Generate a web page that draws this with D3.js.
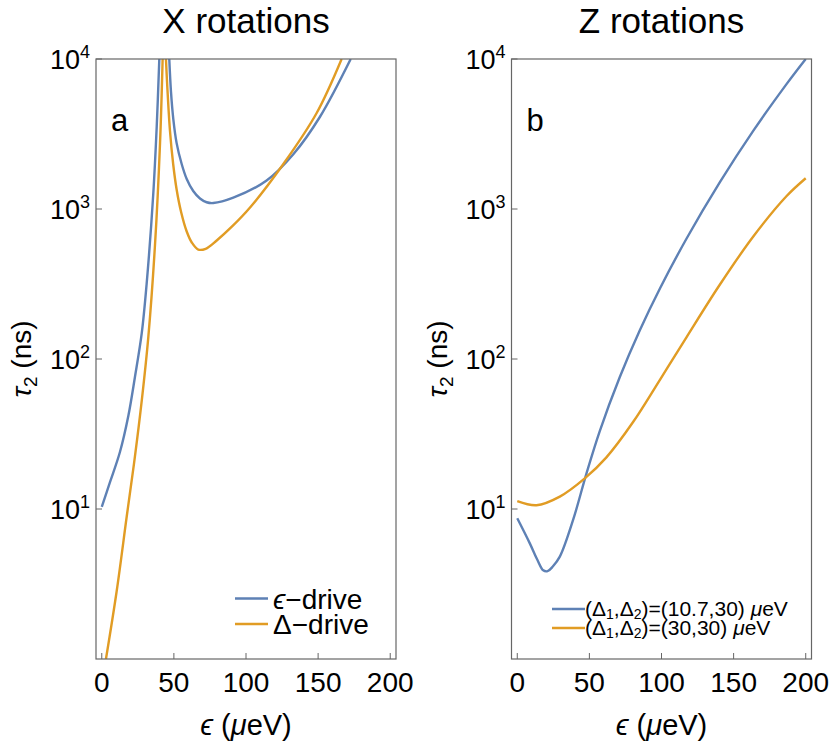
<!DOCTYPE html>
<html>
<head>
<meta charset="utf-8">
<script src="https://cdn.jsdelivr.net/npm/d3@7"></script>
<style>
  body { margin: 0; background: #fff; }
  text { font-family: "Liberation Sans", Arial, sans-serif; fill: #000; }
</style>
</head>
<body>
<svg id="chart" width="830" height="747"></svg>
<script>
// axis ticks
const epsTicks = [0, 50, 100, 150, 200];
const tauTicks = [10, 100, 1000, 10000];

// panel a (X rotations), [epsilon in ueV, tau2 in ns]
// each drive has a pole just above eps = 40, so two branches each
const epsDriveLow = [[0, 10.35], [5.7, 15.1], [12.6, 24.0], [18.4, 41.7], [23, 75.9], [27.7, 148], [31.1, 316], [35.7, 1259], [38.1, 3548], [39.9, 10000]];
const epsDriveHigh = [[46.8, 10000], [48, 6030], [49.6, 3980], [51.9, 2750], [55.4, 1995], [58.9, 1585], [63.4, 1318], [68.1, 1175], [72.7, 1109], [77.3, 1096], [91.2, 1189], [114.3, 1549], [132.8, 2317], [151.3, 4121], [172.6, 10000]];
const deltaDriveLow = [[2.9, 1.0], [10.3, 2.82], [17.3, 8.91], [23, 22.4], [27.7, 52.5], [32.3, 141], [36.9, 575], [40.4, 2754], [42.2, 10000]];
const deltaDriveHigh = [[44.5, 10000], [45.4, 6607], [47.3, 3311], [49.5, 1995], [51.9, 1349], [55, 955], [58.9, 708], [62.5, 596], [66.9, 537], [72, 543], [79.7, 617], [90, 759], [102.8, 1023], [125.9, 1995], [149, 4365], [166.3, 10000]];

// panel b (Z rotations)
const deltas107 = [[0, 8.67], [8.7, 5.9], [14, 4.57], [18, 3.9], [21, 3.85], [24.5, 4.12], [29.5, 4.81], [38.7, 8.45], [48, 17.3], [57.2, 33.1], [71.1, 75.9], [84.9, 155], [99, 296.5], [117.5, 638], [140.6, 1514], [163.7, 3327], [186.8, 6823], [200, 10000]];
const deltas30 = [[0, 11.3], [13.3, 10.6], [29.5, 12.1], [46.8, 16.0], [61.8, 22.1], [80.3, 38.0], [98.8, 72.4], [117.3, 139.6], [140.4, 312.6], [163.5, 653], [186.6, 1216], [200, 1603]];

const blue = '#5e81b5', orange = '#e19c24', frameGrey = '#666';

const svg = d3.select('#chart');
const plotTop = 59, plotBottom = 659, plotW = 300;

const panels = [
  {
    left: 96, title: 'X rotations', letter: 'a',
    lines: [
      {data: epsDriveLow, color: blue}, {data: epsDriveHigh, color: blue},
      {data: deltaDriveLow, color: orange}, {data: deltaDriveHigh, color: orange}
    ]
  },
  {
    left: 511.5, title: 'Z rotations', letter: 'b',
    lines: [{data: deltas107, color: blue}, {data: deltas30, color: orange}]
  }
];

panels.forEach((p, k) => {
  let g = svg.append('g');
  let x = d3.scaleLinear().domain([-4, 204]).range([p.left, p.left + plotW]);
  let y = d3.scaleLog().domain([1, 1e4]).range([plotBottom, plotTop]);

  g.append('clipPath').attr('id', 'clip' + k)
      .append('rect')
      .attr('x', p.left).attr('y', plotTop)
      .attr('width', plotW).attr('height', plotBottom - plotTop);

  // curves
  let line = d3.line()
      .x(d => x(d[0]))
      .y(d => y(d[1]))
      .curve(d3.curveCatmullRom.alpha(0.5));

  g.append('g').attr('clip-path', `url(#clip${k})`)
      .selectAll('path')
      .data(p.lines)
      .enter()
      .append('path')
      .attr('d', d => line(d.data))
      .attr('fill', 'none')
      .attr('stroke', d => d.color)
      .attr('stroke-width', 2.4);

  // frame
  g.append('rect')
      .attr('x', p.left).attr('y', plotTop)
      .attr('width', plotW).attr('height', plotBottom - plotTop)
      .attr('fill', 'none')
      .attr('stroke', frameGrey)
      .attr('stroke-width', 1.2);

  // x ticks (inward)
  g.selectAll('line.xt')
      .data(epsTicks)
      .enter()
      .append('line')
      .attr('x1', d => x(d)).attr('x2', d => x(d))
      .attr('y1', plotBottom).attr('y2', plotBottom - 6)
      .attr('stroke', frameGrey);

  g.selectAll('text.xt')
      .data(epsTicks)
      .enter()
      .append('text')
      .attr('x', d => x(d))
      .attr('y', 692)
      .attr('text-anchor', 'middle')
      .style('font-size', '28px')
      .text(d => d);

  // y ticks (inward), labels as 10^n
  g.selectAll('line.yt')
      .data(tauTicks)
      .enter()
      .append('line')
      .attr('x1', p.left).attr('x2', p.left + 6)
      .attr('y1', d => y(d)).attr('y2', d => y(d))
      .attr('stroke', frameGrey);

  let yl = g.selectAll('text.yt')
      .data(tauTicks)
      .enter()
      .append('text')
      .attr('x', p.left - 6)
      .attr('y', d => y(d) + 10)
      .attr('text-anchor', 'end')
      .style('font-size', '27px');
  yl.append('tspan').text('10');
  yl.append('tspan')
      .attr('dy', -11)
      .style('font-size', '18px')
      .text(d => Math.round(Math.log10(d)));

  // title
  g.append('text')
      .attr('x', p.left + plotW / 2).attr('y', 33)
      .attr('text-anchor', 'middle')
      .style('font-size', '35px')
      .text(p.title);

  // panel letter
  g.append('text')
      .attr('x', p.left + 15).attr('y', 131)
      .style('font-size', '31px')
      .text(p.letter);

  // x label
  let xl = g.append('text')
      .attr('x', p.left + plotW / 2).attr('y', 735)
      .attr('text-anchor', 'middle')
      .style('font-size', '29px');
  xl.append('tspan').style('font-style', 'italic').text('ϵ');
  xl.append('tspan').text(' (');
  xl.append('tspan').style('font-style', 'italic').text('μ');
  xl.append('tspan').text('eV)');

  // y label
  let ylab = g.append('text')
      .attr('transform', `translate(${p.left - 65},${(plotTop + plotBottom) / 2}) rotate(-90)`)
      .attr('text-anchor', 'middle')
      .style('font-size', '28px');
  ylab.append('tspan').style('font-style', 'italic').text('τ');
  ylab.append('tspan').attr('dy', 6).style('font-size', '19px').text('2');
  ylab.append('tspan').attr('dy', -6).text(' (ns)');
});

// legend, panel a
let legA = svg.append('g');
[{label: 'ϵ', color: blue}, {label: 'Δ', color: orange}].forEach((d, i) => {
  let yy = 598.5 + i * 25.5;
  legA.append('line')
      .attr('x1', 235).attr('x2', 268)
      .attr('y1', yy).attr('y2', yy)
      .attr('stroke', d.color).attr('stroke-width', 2.4);
  let t = legA.append('text')
      .attr('x', 273).attr('y', yy + 10)
      .style('font-size', '28px');
  t.append('tspan').style('font-style', i === 0 ? 'italic' : 'normal').text(d.label);
  t.append('tspan').text('−drive');
});

// legend, panel b
let legB = svg.append('g');
[{d1: '10.7', color: blue}, {d1: '30', color: orange}].forEach((d, i) => {
  let yy = 609 + i * 19;
  legB.append('line')
      .attr('x1', 552).attr('x2', 585)
      .attr('y1', yy).attr('y2', yy)
      .attr('stroke', d.color).attr('stroke-width', 2.4);
  let t = legB.append('text')
      .attr('x', 585).attr('y', yy + 7)
      .style('font-size', '21px');
  t.append('tspan').text('(Δ');
  t.append('tspan').attr('dy', 3).style('font-size', '14px').text('1');
  t.append('tspan').attr('dy', -3).text(',Δ');
  t.append('tspan').attr('dy', 3).style('font-size', '14px').text('2');
  t.append('tspan').attr('dy', -3).text(`)=(${d.d1},30) `);
  t.append('tspan').style('font-style', 'italic').text('μ');
  t.append('tspan').text('eV');
});
</script>
</body>
</html>
